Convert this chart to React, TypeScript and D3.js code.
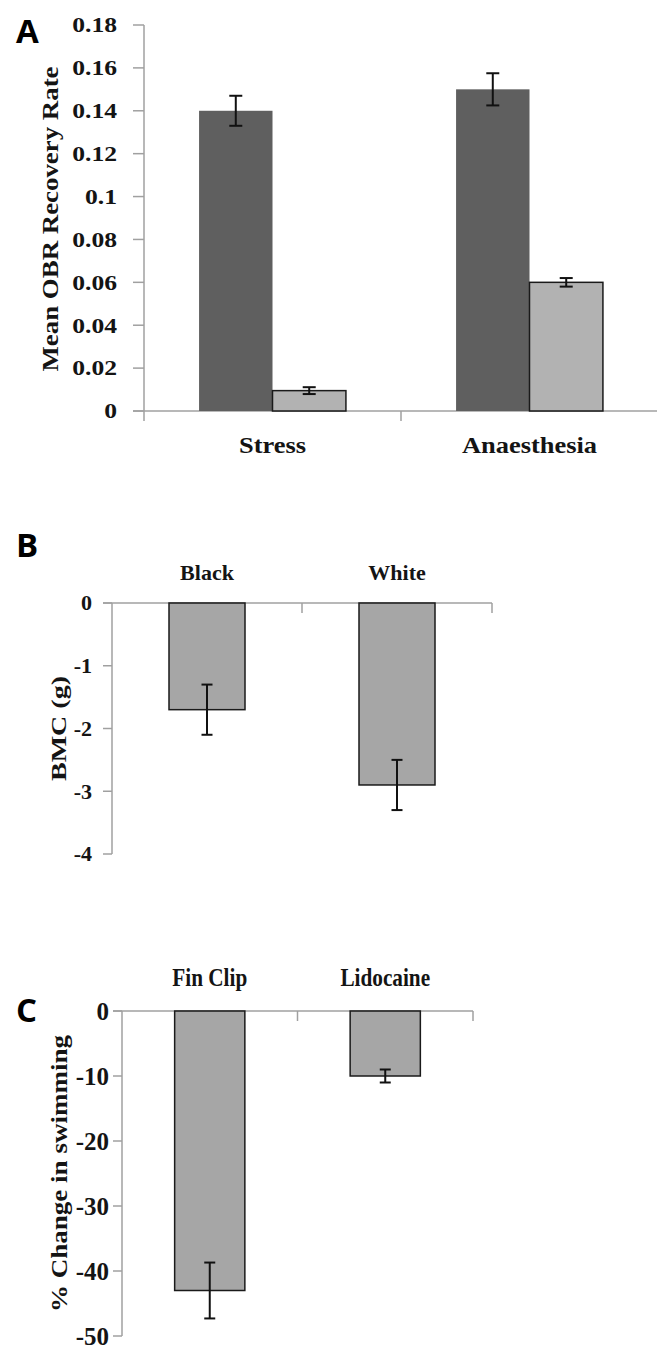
import React from "react";
import * as d3 from "d3";

// ---------- Data ----------
// Panel A
const catsA = ["Stress", "Anaesthesia"];
const seriesA = ["dark", "light"];
const darkA = [0.14, 0.15];
const darkErrA = [0.007, 0.0075];
const lightA = [0.0095, 0.06];
const lightErrA = [0.0016, 0.002];
const ticksA = [0, 0.02, 0.04, 0.06, 0.08, 0.1, 0.12, 0.14, 0.16, 0.18];
const tickLabelsA = ["0", "0.02", "0.04", "0.06", "0.08", "0.1", "0.12", "0.14", "0.16", "0.18"];

// Panel B
const catsB = ["Black", "White"];
const valsB = [-1.7, -2.9];
const errB = [0.4, 0.4];
const ticksB = [0, -1, -2, -3, -4];
const tickLabelsB = ["0", "-1", "-2", "-3", "-4"];

// Panel C
const catsC = ["Fin Clip", "Lidocaine"];
const valsC = [-43, -10];
const errC = [4.3, 1.0];
const ticksC = [0, -10, -20, -30, -40, -50];
const tickLabelsC = ["0", "-10", "-20", "-30", "-40", "-50"];

const AXIS = "#a0a0a0";
const TXT = "#141414";
const SERIF = "'Liberation Serif', 'Times New Roman', serif";
const SANS = "'Open Sans', 'Noto Sans', sans-serif";

function ErrBar({ x, y1, y2, cap }: { x: number; y1: number; y2: number; cap: number }) {
  return (
    <g stroke="#111" strokeWidth={2}>
      <line x1={x} x2={x} y1={y1} y2={y2} />
      <line x1={x - cap / 2} x2={x + cap / 2} y1={y1} y2={y1} />
      <line x1={x - cap / 2} x2={x + cap / 2} y1={y2} y2={y2} />
    </g>
  );
}

function PanelA() {
  const y = d3.scaleLinear().domain([0, 0.18]).range([411, 25]);
  const x = d3.scaleBand<string>().domain(catsA).range([144, 658]).padding(0);
  const xs = d3
    .scaleBand<string>()
    .domain(seriesA)
    .range([0, x.bandwidth()])
    .paddingInner(0)
    .paddingOuter(0.75);
  const axisX = 144;
  return (
    <g>
      <text x={16} y={43} fontFamily={SANS} fontWeight={700} fontSize={33} fill="#000">A</text>
      {/* y axis */}
      <line x1={axisX} x2={axisX} y1={y(0.18)} y2={421} stroke={AXIS} strokeWidth={1.5} />
      {ticksA.map((t, i) => (
        <g key={i}>
          <line x1={133} x2={axisX} y1={y(t)} y2={y(t)} stroke={AXIS} strokeWidth={1.5} />
          <text
            transform={`translate(117,${y(t)}) scale(1.22,1)`}
            textAnchor="end"
            dy="0.35em"
            fontFamily={SERIF}
            fontWeight={700}
            fontSize={21}
            fill={TXT}
          >
            {tickLabelsA[i]}
          </text>
        </g>
      ))}
      {/* x axis */}
      <line x1={133} x2={657} y1={y(0)} y2={y(0)} stroke={AXIS} strokeWidth={1.5} />
      {catsA.map((c) => (
        <line key={c} x1={(x(c) as number) + x.bandwidth()} x2={(x(c) as number) + x.bandwidth()} y1={y(0)} y2={421} stroke={AXIS} strokeWidth={1.5} />
      ))}
      {/* bars */}
      {catsA.map((c, i) => {
        const x0 = x(c) as number;
        const xd = x0 + (xs("dark") as number);
        const xl = x0 + (xs("light") as number);
        const w = xs.bandwidth();
        return (
          <g key={c}>
            <rect x={xd} y={y(darkA[i])} width={w} height={y(0) - y(darkA[i])} fill="#5f5f5f" />
            <rect x={xl} y={y(lightA[i])} width={w} height={y(0) - y(lightA[i])} fill="#b2b2b2" stroke="#1a1a1a" strokeWidth={1.5} />
            <ErrBar x={xd + w / 2} y1={y(darkA[i] + darkErrA[i])} y2={y(darkA[i] - darkErrA[i])} cap={13} />
            <ErrBar x={xl + w / 2} y1={y(lightA[i] + lightErrA[i])} y2={y(lightA[i] - lightErrA[i])} cap={13} />
            <text
              transform={`translate(${x0 + x.bandwidth() / 2},453) scale(1.15,1)`}
              textAnchor="middle"
              fontFamily={SERIF}
              fontWeight={700}
              fontSize={23}
              fill={TXT}
            >
              {c}
            </text>
          </g>
        );
      })}
      <text
        transform={`translate(58,${(25 + 411) / 2 + 1}) rotate(-90)`}
        textAnchor="middle"
        fontFamily={SERIF}
        fontWeight={700}
        fontSize={24}
        textLength={305}
        lengthAdjust="spacingAndGlyphs"
        fill={TXT}
      >
        Mean OBR Recovery Rate
      </text>
    </g>
  );
}

function NegPanel({
  letter,
  letterY,
  cats,
  vals,
  errs,
  ticks,
  tickLabels,
  yDomain,
  yRange,
  xRange,
  axisLeft,
  tickRight,
  catY,
  catFont,
  catScaleX,
  tickFont,
  tickScaleX,
  yLabel,
  yLabelX,
  yLabelLen,
  yLabelFont,
}: any) {
  const y = d3.scaleLinear().domain(yDomain).range(yRange);
  const x = d3.scaleBand<string>().domain(cats).range(xRange).padding(0);
  const bw = x.bandwidth() * 0.4;
  const y0 = y(0);
  return (
    <g>
      <text x={16} y={letterY} fontFamily={SANS} fontWeight={700} fontSize={33} fill="#000">{letter}</text>
      <line x1={xRange[0]} x2={xRange[0]} y1={y0} y2={y(yDomain[0])} stroke={AXIS} strokeWidth={1.5} />
      {ticks.map((t: number, i: number) => (
        <g key={i}>
          <line x1={axisLeft} x2={xRange[0]} y1={y(t)} y2={y(t)} stroke={AXIS} strokeWidth={1.5} />
          <text
            transform={`translate(${tickRight},${y(t)}) scale(${tickScaleX},1)`}
            textAnchor="end"
            dy="0.35em"
            fontFamily={SERIF}
            fontWeight={700}
            fontSize={tickFont}
            fill={TXT}
          >
            {tickLabels[i]}
          </text>
        </g>
      ))}
      <line x1={axisLeft} x2={xRange[1]} y1={y0} y2={y0} stroke={AXIS} strokeWidth={1.5} />
      {cats.map((c: string) => {
        const xe = (x(c) as number) + x.bandwidth();
        return <line key={"t" + c} x1={xe} x2={xe} y1={y0} y2={y0 + 10} stroke={AXIS} strokeWidth={1.5} />;
      })}
      {cats.map((c: string, i: number) => {
        const cx = (x(c) as number) + x.bandwidth() / 2;
        return (
          <g key={c}>
            <rect x={cx - bw / 2} y={y0} width={bw} height={y(vals[i]) - y0} fill="#a6a6a6" stroke="#1a1a1a" strokeWidth={1.5} />
            <ErrBar x={cx} y1={y(vals[i] + errs[i])} y2={y(vals[i] - errs[i])} cap={11} />
            <text
              transform={`translate(${cx},${catY}) scale(${catScaleX},1)`}
              textAnchor="middle"
              fontFamily={SERIF}
              fontWeight={700}
              fontSize={catFont}
              fill={TXT}
            >
              {c}
            </text>
          </g>
        );
      })}
      <text
        transform={`translate(${yLabelX},${(yRange[0] + yRange[1]) / 2}) rotate(-90)`}
        textAnchor="middle"
        fontFamily={SERIF}
        fontWeight={700}
        fontSize={yLabelFont}
        textLength={yLabelLen}
        lengthAdjust="spacingAndGlyphs"
        fill={TXT}
      >
        {yLabel}
      </text>
    </g>
  );
}

export default function App() {
  return (
    <svg
      width={657}
      height={1349}
      viewBox="0 0 657 1349"
      style={{ position: "absolute", left: 0, top: 0, background: "#fff" }}
    >
      <rect width={657} height={1349} fill="#fff" />
      <PanelA />
      <NegPanel
        letter="B"
        letterY={557}
        cats={catsB}
        vals={valsB}
        errs={errB}
        ticks={ticksB}
        tickLabels={tickLabelsB}
        yDomain={[-4, 0]}
        yRange={[854, 603]}
        xRange={[112, 492]}
        axisLeft={103}
        tickRight={92}
        catY={580}
        catFont={22}
        catScaleX={1}
        tickFont={21}
        tickScaleX={1.05}
        yLabel={"BMC  (g)"}
        yLabelX={66}
        yLabelLen={105}
        yLabelFont={22}
      />
      <NegPanel
        letter="C"
        letterY={1022}
        cats={catsC}
        vals={valsC}
        errs={errC}
        ticks={ticksC}
        tickLabels={tickLabelsC}
        yDomain={[-50, 0]}
        yRange={[1336, 1011]}
        xRange={[122, 473]}
        axisLeft={113}
        tickRight={109}
        catY={986}
        catFont={25}
        catScaleX={0.85}
        tickFont={25}
        tickScaleX={1.0}
        yLabel={"% Change in swimming"}
        yLabelX={67}
        yLabelLen={277}
        yLabelFont={24}
      />
    </svg>
  );
}
